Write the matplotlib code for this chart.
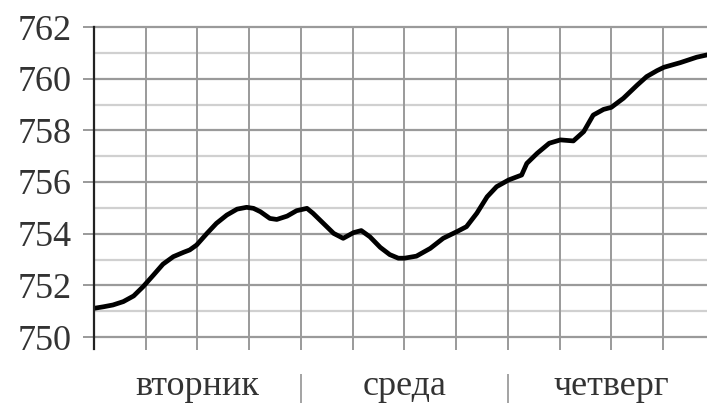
import matplotlib
matplotlib.use("Agg")
import matplotlib.pyplot as plt

# hours since the start of tuesday and pressure in mm Hg
hours = [0, 1.1, 2.2, 3.4, 4.6, 5.7, 6.9, 8.0, 9.2, 10.4, 11.1, 11.9, 13.1,
         14.2, 15.4, 16.6, 17.7, 18.5, 19.3, 20.4, 21.2, 22.4, 23.5, 24.7,
         25.4, 26.6, 27.8, 28.9, 30.1, 31.0, 32.0, 33.2, 34.3, 35.3, 36.0,
         37.4, 39.0, 40.5, 42.1, 43.2, 44.4, 45.6, 46.7, 48.1, 49.6, 50.2,
         51.4, 52.8, 54.1, 55.6, 56.8, 57.9, 59.1, 60.0, 61.4, 63.0, 64.1,
         65.3, 66.1, 68.0, 69.9, 71.1]
pressure = [751.11, 751.17, 751.24, 751.37, 751.59, 751.95, 752.40, 752.82,
            753.11, 753.28, 753.37, 753.56, 754.01, 754.40, 754.72, 754.95,
            755.02, 754.98, 754.85, 754.59, 754.55, 754.68, 754.89, 754.98,
            754.79, 754.40, 754.01, 753.82, 754.04, 754.12, 753.88, 753.47,
            753.19, 753.05, 753.05, 753.13, 753.43, 753.82, 754.08, 754.27,
            754.79, 755.43, 755.82, 756.08, 756.27, 756.72, 757.11, 757.50,
            757.63, 757.59, 757.95, 758.59, 758.81, 758.89, 759.24, 759.75,
            760.08, 760.31, 760.44, 760.62, 760.83, 760.92]

days = ["вторник", "среда", "четверг"]
day_centres = [12, 36, 60]
day_breaks = [24, 48]
y_labels = [750, 752, 754, 756, 758, 760, 762]

plt.rcParams['font.family'] = ['Liberation Serif', 'DejaVu Serif']

fig = plt.figure(figsize=(7.07, 4.03), dpi=100)
ax = fig.add_axes([94 / 707, 1 - 337 / 403, 1 - 94 / 707, 310 / 403])

# light grid at odd values, darker at even ones
for v in range(751, 762, 2):
    ax.axhline(v, color="#d0d0d0", lw=1.6, zorder=1)
for v in y_labels:
    ax.axhline(v, color="#9a9a9a", lw=1.6, zorder=1, clip_on=False)
for h in range(6, 72, 6):
    ax.axvline(h, color="#9a9a9a", lw=1.4, zorder=1)

ax.plot(hours, pressure, color="black", lw=3.4, solid_joinstyle="round",
        solid_capstyle="round", zorder=3)

ax.set_xlim(0, 71.1)
ax.set_ylim(750, 762)
ax.set_yticks(y_labels)
ax.set_yticklabels([str(v) for v in y_labels])
ax.set_xticks(range(0, 72, 6))
ax.set_xticklabels([])
ax.tick_params(axis="y", length=8, width=1.4, color="#9a9a9a", pad=8,
               labelsize=26, labelcolor="#333333")
ax.tick_params(axis="x", length=9, width=1.4, color="#9a9a9a")

for s in ["top", "right", "bottom"]:
    ax.spines[s].set_visible(False)
ax.spines["left"].set_color("#222222")
ax.spines["left"].set_linewidth(1.6)
ax.spines["left"].set_bounds(749.54, 762)
ax.spines["left"].set_zorder(4)

for name, c in zip(days, day_centres):
    ax.text(c, -0.16, name, transform=ax.get_xaxis_transform(), ha="center",
            va="center", fontsize=26, color="#333333")
for b in day_breaks:
    ax.text(b, -0.165, "|", transform=ax.get_xaxis_transform(), ha="center",
            va="center", fontsize=22, color="#888888")

fig.savefig("out.png", dpi=100)
